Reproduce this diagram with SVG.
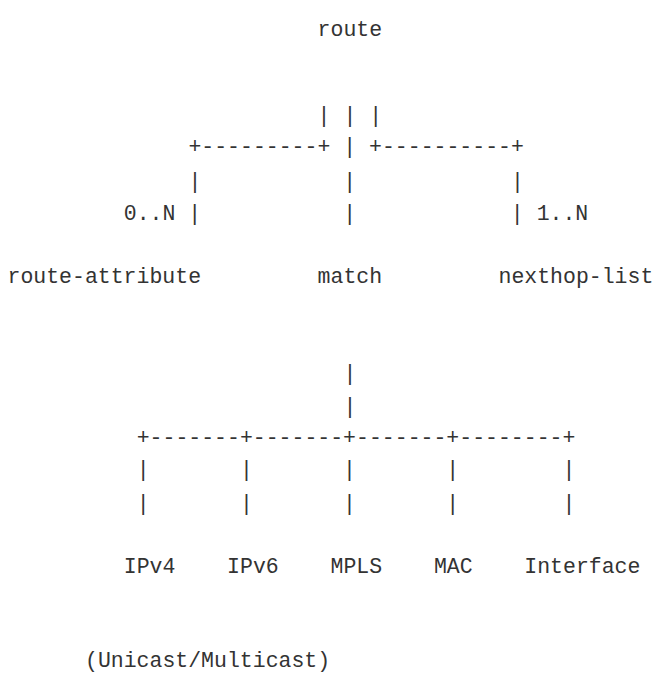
<svg xmlns="http://www.w3.org/2000/svg" width="653" height="675" viewBox="0 0 653 675">
<style>
text{font-family:"Liberation Mono","DejaVu Sans Mono",monospace;font-size:21.5px;fill:#333;white-space:pre}
</style>
<rect width="653" height="675" fill="#fff"/>
<g id="connectors">
<text x="317.6" y="122" xml:space="preserve">| | |</text>
<text x="188.4" y="153" xml:space="preserve">+---------+ | +----------+</text>
<text x="188.4" y="188" xml:space="preserve">|           |            |</text>
<text x="123.8" y="220" xml:space="preserve">0..N |           |            | 1..N</text>
<text x="343.4" y="380">|</text>
<text x="343.4" y="413">|</text>
<text x="136.7" y="444">+-------+-------+-------+--------+</text>
<text x="136.7" y="476" xml:space="preserve">|       |       |       |        |</text>
<text x="136.7" y="510" xml:space="preserve">|       |       |       |        |</text>
</g>
<g id="route"><text x="317.6" y="36">route</text></g>
<g id="route-attribute"><text x="7.5" y="283">route-attribute</text></g>
<g id="match"><text x="317.6" y="283">match</text></g>
<g id="nexthop-list"><text x="498.5" y="283">nexthop-list</text></g>
<g id="ipv4"><text x="123.8" y="572.5">IPv4</text></g>
<g id="ipv6"><text x="227.1" y="572.5">IPv6</text></g>
<g id="mpls"><text x="330.5" y="572.5">MPLS</text></g>
<g id="mac"><text x="433.9" y="572.5">MAC</text></g>
<g id="interface"><text x="524.3" y="572.5">Interface</text></g>
<g id="unicast-multicast"><text x="85" y="667">(Unicast/Multicast)</text></g>
</svg>
